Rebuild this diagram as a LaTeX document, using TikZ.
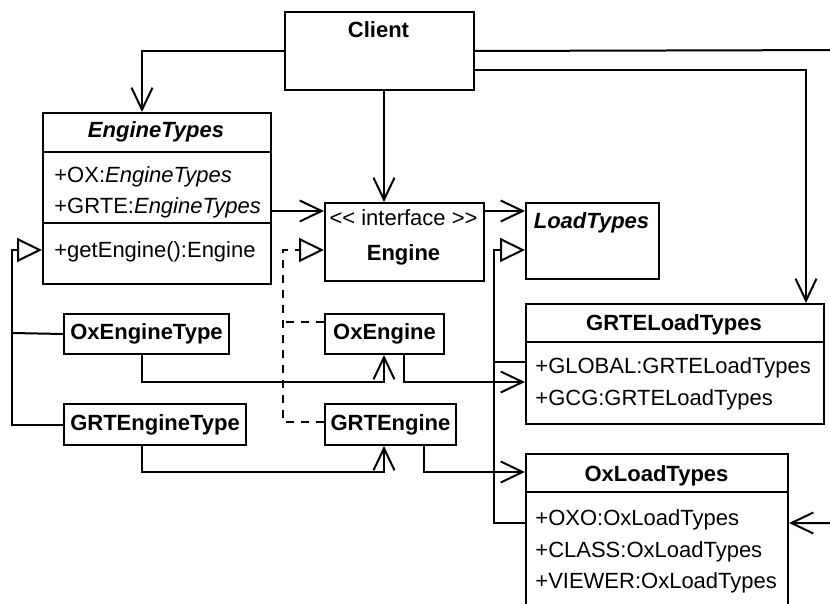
\documentclass[tikz,border=0pt]{standalone}
\usepackage{fontspec}
\setmainfont{Liberation Sans}
\usetikzlibrary{arrows.meta,positioning}

\tikzset{
  umlbox/.style={draw,line width=1pt,anchor=north west,inner sep=0pt},
  umltitle/.style={anchor=base,inner sep=0pt,font=\fontsize{11}{13}\selectfont\bfseries},
  umlattr/.style={anchor=base west,inner sep=0pt,font=\fontsize{11}{13}\selectfont},
  rule/.style={line width=1pt},
  assoc/.style={rule,-{Straight Barb[length=11pt,width=10.5pt]}},
  gen/.style={rule,-{Triangle[open,length=12.5pt,width=12pt]}},
  realize/.style={gen,dash pattern=on 4pt off 3.5pt},
}

\begin{document}
\begin{tikzpicture}[x=0.5pt,y=-0.5pt]
\useasboundingbox (0,0) rectangle (830,604);

% classes
\node[umlbox,minimum width=94.5pt,minimum height=39pt] (Client) at (284,11) {};
\node[umltitle] (ClientName) at (378.5,38) {Client};

\node[umlbox,minimum width=114pt,minimum height=85.5pt] (EngineTypes) at (42,112) {};
\node[umltitle,font=\fontsize{11}{13}\selectfont\bfseries\itshape] (EngineTypesName) at (156,138) {EngineTypes};
\draw[rule] (EngineTypes.west |- 0,152) -- (EngineTypes.east |- 0,152);
\node[umlattr] (attrOX) at (54,183) {+OX:\textit{EngineTypes}};
\node[umlattr] (attrGRTE) at (54,214) {+GRTE:\textit{EngineTypes}};
\draw[rule] (EngineTypes.west |- 0,223) -- (EngineTypes.east |- 0,223);
\node[umlattr] (opGetEngine) at (54,258) {+getEngine():Engine};

\node[umlbox,minimum width=79.5pt,minimum height=39pt] (Engine) at (324,202) {};
\node[umltitle,font=\fontsize{11}{13}\selectfont] (EngineStereo) at (403.5,226) {<{}< interface >{}>};
\node[umltitle] (EngineName) at (403.5,261) {Engine};

\node[umlbox,minimum width=66.5pt,minimum height=38pt] (LoadTypes) at (525,202) {};
\node[umltitle,font=\fontsize{11}{13}\selectfont\bfseries\itshape] (LoadTypesName) at (591.5,229) {LoadTypes};

\node[umlbox,umltitle,anchor=north west,minimum width=82.5pt,minimum height=20pt] (OxEngineType) at (63,313) {OxEngineType};
\node[umlbox,umltitle,anchor=north west,minimum width=91pt,minimum height=20.5pt] (GRTEngineType) at (63,403) {GRTEngineType};
\node[umlbox,umltitle,anchor=north west,minimum width=59.5pt,minimum height=20pt] (OxEngine) at (324,313) {OxEngine};
\node[umlbox,umltitle,anchor=north west,minimum width=65.5pt,minimum height=20.5pt] (GRTEngine) at (324,403) {GRTEngine};

\node[umlbox,minimum width=149pt,minimum height=60pt] (GRTELoadTypes) at (525,303) {};
\node[umltitle] (GRTELoadTypesName) at (674,330) {GRTELoadTypes};
\draw[rule] (GRTELoadTypes.west |- 0,342) -- (GRTELoadTypes.east |- 0,342);
\node[umlattr] (attrGLOBAL) at (535,373) {+GLOBAL:GRTELoadTypes};
\node[umlattr] (attrGCG) at (535,405) {+GCG:GRTELoadTypes};

\node[umlbox,minimum width=131pt,minimum height=100pt] (OxLoadTypes) at (525,453) {};
\node[umltitle] (OxLoadTypesName) at (656.5,481) {OxLoadTypes};
\draw[rule] (OxLoadTypes.west |- 0,492) -- (OxLoadTypes.east |- 0,492);
\node[umlattr] (attrOXO) at (535,525) {+OXO:OxLoadTypes};
\node[umlattr] (attrCLASS) at (535,557) {+CLASS:OxLoadTypes};
\node[umlattr] (attrVIEWER) at (535,588) {+VIEWER:OxLoadTypes};

% generalization and realization
\draw[gen] (GRTEngineType.west) -| (12,250) -- (EngineTypes.west |- 0,250);
\draw[rule] (OxEngineType.west) -- (12,333);
\draw[realize] (GRTEngine.west |- 0,422) -| (283,250) -- (Engine.west |- 0,250);
\draw[rule,dash pattern=on 4pt off 3.5pt] (OxEngine.west |- 0,322) -- (283,322);
\draw[gen] (OxLoadTypes.west |- 0,523) -| (494,250) -- (LoadTypes.west |- 0,250);
\draw[rule] (GRTELoadTypes.west |- 0,362) -- (494,362);

% associations
\draw[assoc] (Client.west) -| (EngineTypes.north -| 142,0);
\draw[assoc] (Client.south -| 384,0) -- (Engine.north -| 384,0);
\draw[assoc] (Client.east |- 0,70) -| (GRTELoadTypes.north -| 806,0);
\draw[assoc] (Client.east) -- (860,50) |- (OxLoadTypes.east |- 0,523);
\draw[assoc] (EngineTypes.east |- 0,211) -- (Engine.west |- 0,211);
\draw[assoc] (Engine.east |- 0,211) -- (LoadTypes.west |- 0,211);
\draw[assoc] (OxEngineType.south -| 142,0) |- (384,382) -- (OxEngine.south -| 384,0);
\draw[assoc] (GRTEngineType.south -| 142,0) |- (384,472) -- (GRTEngine.south -| 384,0);
\draw[assoc] (OxEngine.south -| 404,0) |- (GRTELoadTypes.west |- 0,382);
\draw[assoc] (GRTEngine.south -| 424,0) |- (OxLoadTypes.west |- 0,472);
\end{tikzpicture}
\end{document}
